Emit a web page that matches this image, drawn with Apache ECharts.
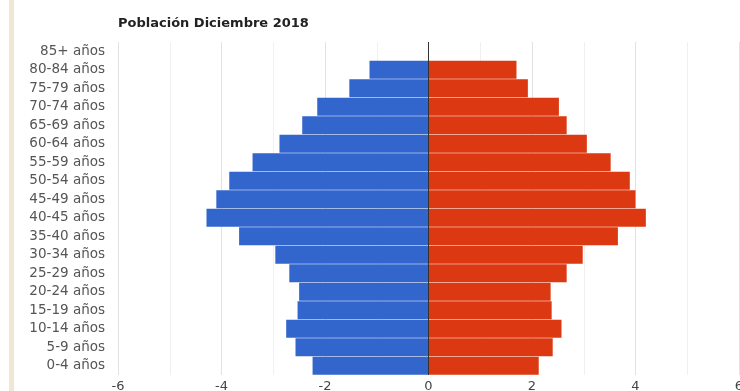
<!DOCTYPE html>
<html>
<head>
<meta charset="utf-8">
<script src="https://cdn.jsdelivr.net/npm/echarts@6/dist/echarts.min.js"></script>
<style>html,body{margin:0;padding:0;background:#fff;}#c{width:740px;height:391px;}</style>
</head>
<body>
<div id="c"></div>
<script>
const categories = ['85+ años','80-84 años','75-79 años','70-74 años','65-69 años','60-64 años','55-59 años','50-54 años','45-49 años','40-45 años','35-40 años','30-34 años','25-29 años','20-24 años','15-19 años','10-14 años','5-9 años','0-4 años'];
const hombres = [0, -1.14, -1.53, -2.15, -2.44, -2.88, -3.40, -3.85, -4.10, -4.29, -3.66, -2.96, -2.69, -2.50, -2.53, -2.75, -2.57, -2.24];
const mujeres = [0, 1.70, 1.92, 2.52, 2.67, 3.06, 3.52, 3.89, 4.00, 4.20, 3.66, 2.98, 2.67, 2.36, 2.38, 2.57, 2.40, 2.13];
const xTicks = [-6, -4, -2, 0, 2, 4, 6];

const chart = echarts.init(document.getElementById('c'), null, {renderer: 'canvas'});
chart.setOption({
  animation: false,
  backgroundColor: '#fff',
  title: {
    text: 'Población Diciembre 2018',
    left: 113, top: 12,
    textStyle: {fontFamily: 'DejaVu Sans', fontWeight: 'bold', fontSize: 13, color: '#222'}
  },
  graphic: [{
    type: 'rect', shape: {x: 9, y: 0, width: 5, height: 391},
    style: {fill: '#efe6d3'}, silent: true
  }],
  grid: {left: 118, right: 1, top: 42, bottom: 16, outerBoundsMode: 'none', containLabel: false},
  xAxis: {
    type: 'value', min: xTicks[0], max: xTicks[xTicks.length - 1], interval: 2,
    axisLine: {show: false}, axisTick: {show: false},
    axisLabel: {color: '#444', fontFamily: 'DejaVu Sans', fontSize: 13, margin: 5},
    splitLine: {show: true, lineStyle: {color: '#e2e2e2', width: 1}},
    minorTick: {show: false, splitNumber: 2},
    minorSplitLine: {show: true, lineStyle: {color: '#f0f0f0', width: 1}}
  },
  yAxis: {
    type: 'category', data: categories, inverse: true,
    axisLine: {show: false}, axisTick: {show: false},
    axisLabel: {color: '#555', fontFamily: 'DejaVu Sans', fontSize: 13.5, margin: 13}
  },
  series: [
    {
      name: 'Hombres', type: 'bar', stack: 'p', data: hombres, barWidth: '96%',
      itemStyle: {color: '#3366cc'},
      markLine: {
        silent: true, symbol: 'none', label: {show: false},
        lineStyle: {color: '#333', width: 1, type: 'solid'},
        data: [{xAxis: 0}]
      }
    },
    {
      name: 'Mujeres', type: 'bar', stack: 'p', data: mujeres, barWidth: '96%',
      itemStyle: {color: '#dc3912'}
    }
  ]
});
</script>
</body>
</html>
